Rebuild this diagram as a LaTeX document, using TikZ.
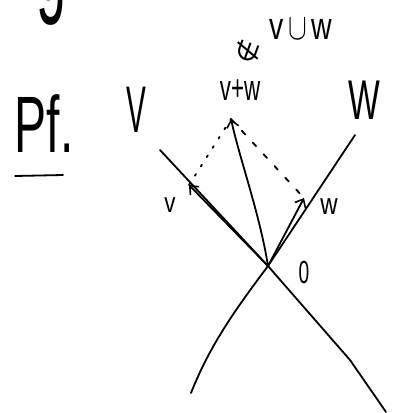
\documentclass[tikz,border=0pt]{standalone}
\usepackage{fontspec}
\setmainfont{Liberation Sans}
\newfontfamily\symfont{DejaVu Sans}
\usetikzlibrary{arrows.meta}
\tikzset{ink/.style={line width=1.8pt, line cap=round, line join=round},
  vec/.style={ink, -{Straight Barb[length=7pt,width=12pt,line width=1.6pt]}},
  hand/.style={inner sep=0pt, anchor=base},
  big/.style={hand, font=\fontsize{66}{66}\selectfont},
  small/.style={hand, font=\fontsize{36}{36}\selectfont}}

\begin{document}
\begin{tikzpicture}[x=1pt, y=-1pt]
  \useasboundingbox (0,0) rectangle (392,413);
  % lines V and W crossing at the origin
  \coordinate (O) at (268,266);
  \coordinate (Vtop) at (160,150);
  \coordinate (Vbot) at (386,412);
  \coordinate (Wtop) at (355,135);
  \coordinate (Wbot) at (191,393);
  \draw[ink] (Vtop) -- (O) -- (350,360) -- (Vbot);
  \draw[ink] (Wtop) -- (O) .. controls (235,310) and (210,345) .. (Wbot);
  % v, w and v+w
  \coordinate (vpt) at (189,185);
  \coordinate (wpt) at (304,198);
  \coordinate (sumpt) at (231,119);
  \draw[vec] (O) -- (vpt);
  \draw[vec] (O) -- (wpt);
  \draw[vec] (O) .. controls (260,215) and (240,160) .. (sumpt);
  \draw[ink, dash pattern=on 2pt off 9pt] (vpt) -- (sumpt);
  \draw[ink, dash pattern=on 5pt off 11pt] (sumpt) -- (wpt);
  % labels
  \node[big] (labV) at (136,132) {\scalebox{0.45}[1]{V}};
  \node[big, font=\fontsize{56}{56}\selectfont] (labW) at (364,119) {\scalebox{0.6}[1]{W}};
  \node[small, font=\fontsize{28}{28}\selectfont] (labv) at (170,212) {\scalebox{0.8}[1]{v}};
  \node[small, font=\fontsize{30}{30}\selectfont] (labw) at (329,214) {\scalebox{0.8}[1]{w}};
  \node[small, font=\fontsize{32}{32}\selectfont] (lab0) at (304,283) {\scalebox{0.6}[1]{0}};
  \node[small] (labsum) at (240,100) {\scalebox{0.62}[1]{v+w}};
  \node[inner sep=0pt, rotate=70, font=\symfont\fontsize{26}{26}\selectfont] (notin) at (248,52) {∉};
  \node[small, font=\fontsize{38}{38}\selectfont] (labcup) at (301,39) {\scalebox{0.75}[1]{v\,\scalebox{1.5}{$\cup$}\,w}};
  \node[big, font=\fontsize{80}{80}\selectfont] (pf) at (44,152) {\scalebox{0.6}[1]{Pf.}};
  \draw[ink] (15,176) -- (63,175);
  % cut-off letter at the top edge
  \node[hand, font=\fontsize{120}{120}\selectfont] (gtop) at (52,0) {\scalebox{0.45}[1]{g}};
\end{tikzpicture}
\end{document}
